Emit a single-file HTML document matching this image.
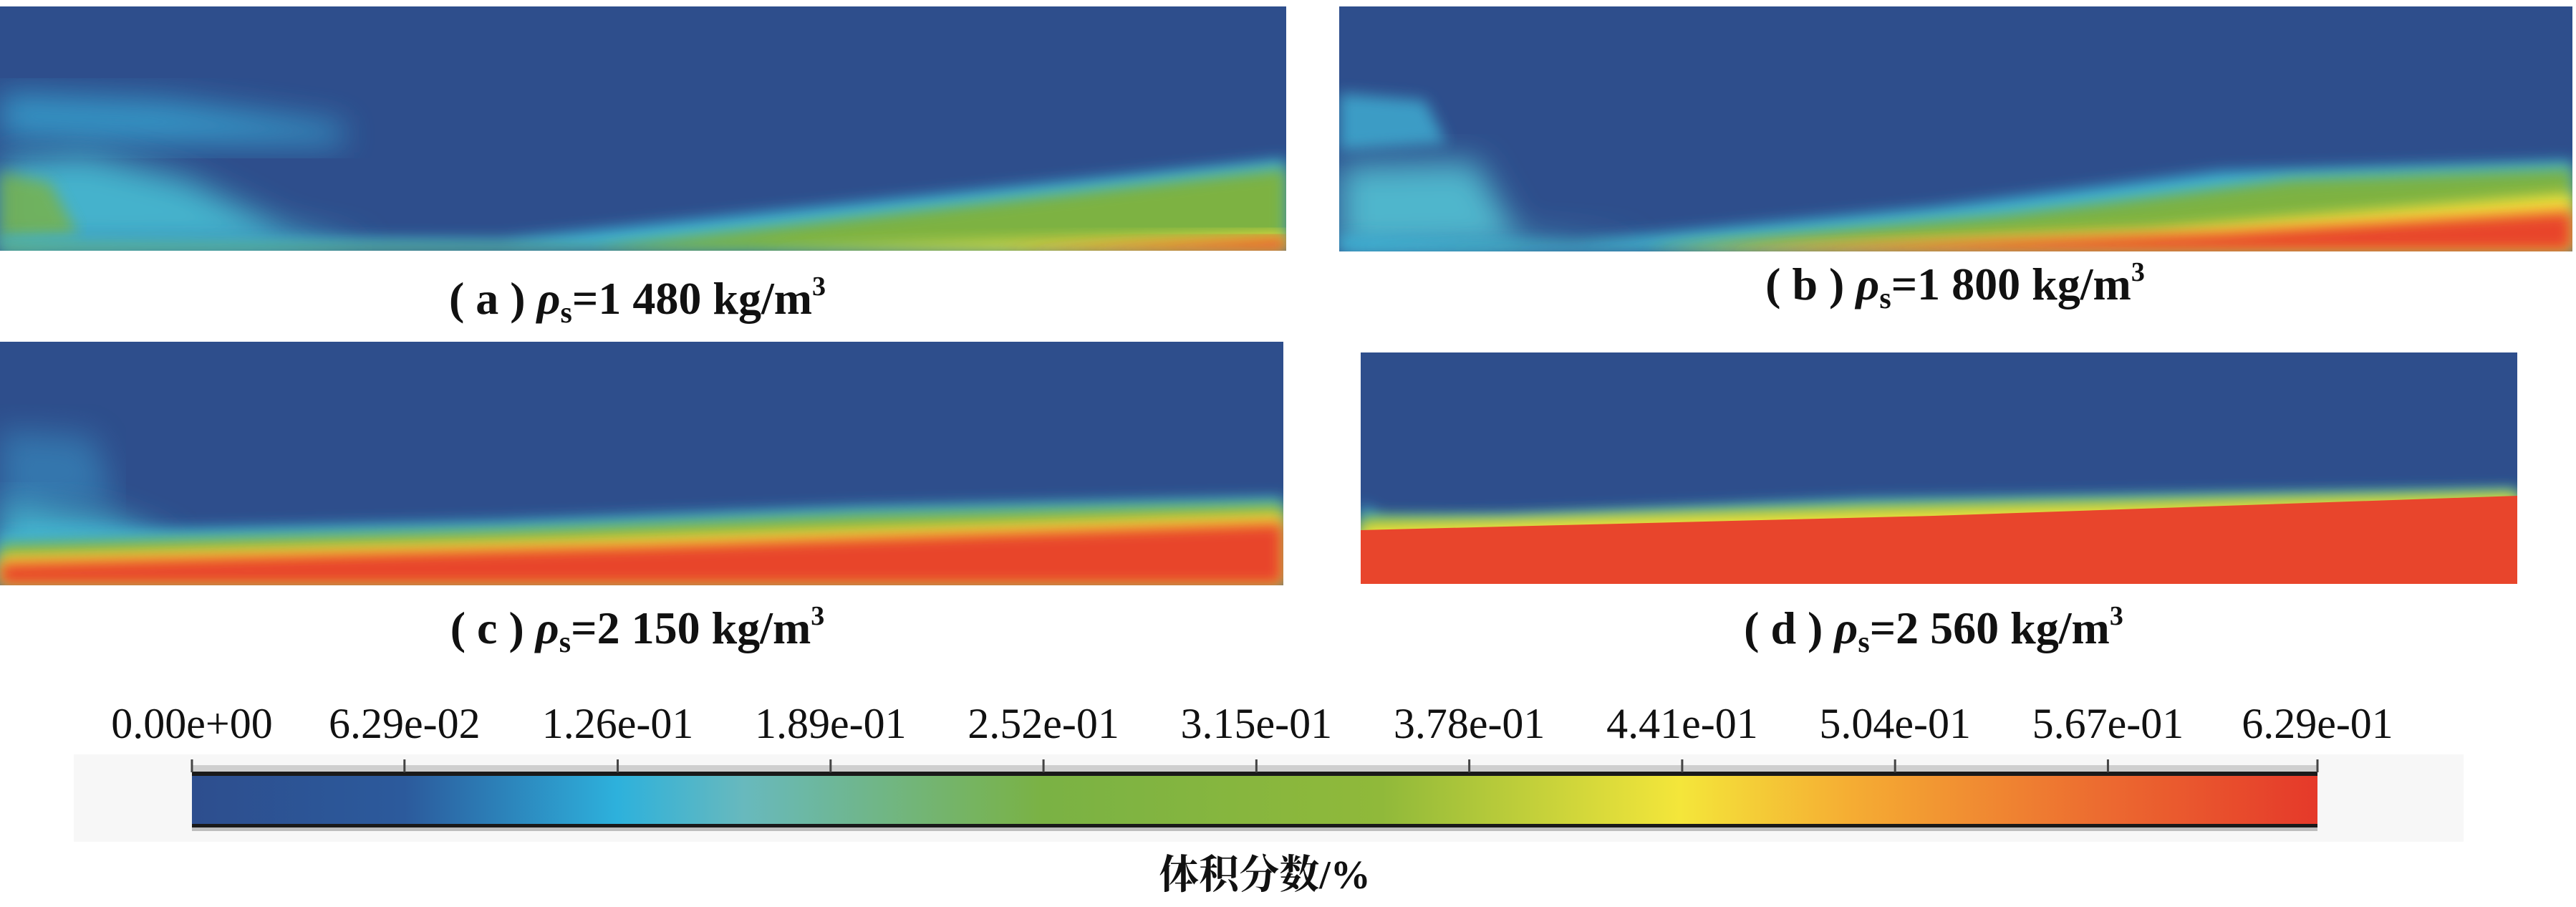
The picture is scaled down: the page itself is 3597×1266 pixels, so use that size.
<!DOCTYPE html>
<html><head><meta charset="utf-8"><style>
html,body{margin:0;padding:0;background:#fff;}
svg{display:block;}
.cap{font-family:"Liberation Serif",serif;font-weight:bold;font-size:64px;fill:#111;}
.tick{font-family:"Liberation Serif",serif;font-size:60px;fill:#111;}
.ttl{font-family:"Liberation Serif","Noto Serif CJK SC","Noto Sans CJK SC",serif;font-weight:bold;font-size:56px;fill:#111;}
</style></head><body>
<svg id="fig" width="3597" height="1266" viewBox="0 0 3597 1266" xmlns="http://www.w3.org/2000/svg">
<defs>
<filter id="b1" x="-10%" y="-30%" width="120%" height="160%"><feGaussianBlur stdDeviation="10"/></filter>
<filter id="b2" x="-10%" y="-30%" width="120%" height="160%"><feGaussianBlur stdDeviation="22"/></filter>
<clipPath id="ca"><rect x="0" y="9" width="1796" height="341"/></clipPath>
<clipPath id="cb"><rect x="1870" y="9" width="1722" height="342"/></clipPath>
<clipPath id="cc"><rect x="0" y="477" width="1792" height="340"/></clipPath>
<clipPath id="cd"><rect x="1900" y="492" width="1615" height="323"/></clipPath>
<linearGradient id="cbar" x1="0" x2="1" y1="0" y2="0">
<stop offset="0" stop-color="#2d4e8e"/><stop offset="0.1" stop-color="#2c5a9c"/>
<stop offset="0.2" stop-color="#2db1dc"/><stop offset="0.26" stop-color="#68b9bd"/>
<stop offset="0.4" stop-color="#7ab244"/><stop offset="0.56" stop-color="#90b93a"/>
<stop offset="0.7" stop-color="#f4e63a"/><stop offset="0.78" stop-color="#f5ad33"/>
<stop offset="0.9" stop-color="#ec6a30"/><stop offset="1" stop-color="#e5392a"/>
</linearGradient>
</defs>

<!-- panel a -->
<g clip-path="url(#ca)">
<rect x="0" y="9" width="1796" height="341" fill="#2e4e8c"/>
<path d="M0,130 L230,140 L480,175 L480,200 L200,200 L0,190Z" fill="#38a7d4" opacity="0.8" filter="url(#b2)"/>
<path d="M0,225 L120,215 L260,250 L400,320 L520,345 L0,350Z" fill="#45b2cc" filter="url(#b2)"/>
<path d="M0,240 L70,255 L110,330 L0,340Z" fill="#7ab244" opacity="0.8" filter="url(#b1)"/>
<path d="M0,330 L700,335 L1796,222 L1796,350 L0,350Z" fill="#3cb3d6" filter="url(#b1)"/>
<path d="M0,342 L830,345 L1796,235 L1796,350 L0,350Z" fill="#7db243" filter="url(#b1)"/>
<path d="M1050,348 L1796,325 L1796,350Z" fill="#f4e23a" filter="url(#b1)"/>
<path d="M1400,350 L1796,332 L1796,350Z" fill="#e8452c" filter="url(#b1)"/>
</g>
<text class="cap" x="890" y="438" text-anchor="middle">( a ) <tspan font-style="italic">ρ</tspan><tspan font-size="42" dy="12">s</tspan><tspan dy="-12">=1 480 kg/m</tspan><tspan font-size="38" dy="-26">3</tspan></text>

<!-- panel b -->
<g clip-path="url(#cb)">
<rect x="1870" y="9" width="1722" height="342" fill="#2e4e8c"/>
<path d="M1870,130 L1990,140 L2020,200 L1870,210Z" fill="#3fb0d4" opacity="0.8" filter="url(#b1)"/>
<path d="M1870,230 L2060,225 L2120,330 L2300,340 L1870,351Z" fill="#4fb6cc" filter="url(#b2)"/>
<path d="M1870,330 L2200,338 L2700,290 L3100,240 L3592,225 L3592,351 L1870,351Z" fill="#3cb3d6" filter="url(#b1)"/>
<path d="M1870,345 L2300,345 L2800,300 L3200,250 L3592,235 L3592,351Z" fill="#7db243" filter="url(#b1)"/>
<path d="M2300,351 L3000,320 L3592,270 L3592,351Z" fill="#f4e23a" filter="url(#b1)"/>
<path d="M2400,351 L3100,325 L3592,295 L3592,351Z" fill="#e8452c" filter="url(#b1)"/>
</g>
<text class="cap" x="2730" y="418" text-anchor="middle">( b ) <tspan font-style="italic">ρ</tspan><tspan font-size="42" dy="12">s</tspan><tspan dy="-12">=1 800 kg/m</tspan><tspan font-size="38" dy="-26">3</tspan></text>

<!-- panel c -->
<g clip-path="url(#cc)">
<rect x="0" y="477" width="1792" height="340" fill="#2e4e8c"/>
<path d="M0,600 L130,610 L160,700 L0,720Z" fill="#3a9fcf" opacity="0.5" filter="url(#b2)"/>
<path d="M0,700 L150,720 L250,760 L0,790Z" fill="#45b2cc" filter="url(#b2)"/>
<path d="M0,745 L700,728 L1200,708 L1792,695 L1792,817 L0,817Z" fill="#3cb3d6" filter="url(#b1)"/>
<path d="M0,760 L700,740 L1200,718 L1792,703 L1792,817 L0,817Z" fill="#7db243" filter="url(#b1)"/>
<path d="M0,775 L800,752 L1792,716 L1792,817 L0,817Z" fill="#f4e23a" filter="url(#b1)"/>
<path d="M0,786 L900,762 L1792,730 L1792,817 L0,817Z" fill="#e8452c" filter="url(#b1)"/>
</g>
<text class="cap" x="890" y="898" text-anchor="middle">( c ) <tspan font-style="italic">ρ</tspan><tspan font-size="42" dy="12">s</tspan><tspan dy="-12">=2 150 kg/m</tspan><tspan font-size="38" dy="-26">3</tspan></text>

<!-- panel d -->
<g clip-path="url(#cd)">
<rect x="1900" y="492" width="1615" height="323" fill="#2e4e8c"/>
<path d="M1900,705 L1930,722 L2100,720 L2600,698 L3515,684 L3515,815 L1900,815Z" fill="#3cb3d6" filter="url(#b1)"/>
<path d="M1900,722 L2100,726 L2600,706 L3515,688 L3515,815 L1900,815Z" fill="#7db243" filter="url(#b1)"/>
<path d="M1900,732 L2600,713 L3515,691 L3515,815 L1900,815Z" fill="#f4e23a" filter="url(#b1)"/>
<path d="M1900,740 L2700,720 L3515,692 L3515,815 L1900,815Z" fill="#e8452c"/>
</g>
<text class="cap" x="2700" y="898" text-anchor="middle">( d ) <tspan font-style="italic">ρ</tspan><tspan font-size="42" dy="12">s</tspan><tspan dy="-12">=2 560 kg/m</tspan><tspan font-size="38" dy="-26">3</tspan></text>

<!-- colorbar -->
<g id="colorbar">
<rect x="103" y="1053" width="3337" height="122" fill="#f7f7f7"/>
<rect x="268" y="1068" width="2968" height="10" fill="#cfcfcf"/>
<rect x="268" y="1077" width="2968" height="6" fill="#1a1a1a"/>
<rect x="268" y="1083" width="2968" height="67" fill="url(#cbar)"/>
<rect x="268" y="1150" width="2968" height="5" fill="#1a1a1a"/>
<rect x="268" y="1155" width="2968" height="5" fill="#bdbdbd"/>
<g id="ticks"></g>
</g>
<text class="ttl" x="1766" y="1240" text-anchor="middle">体积分数/%</text>
</svg>
<script>
const tickLabels = ["0.00e+00","6.29e-02","1.26e-01","1.89e-01","2.52e-01","3.15e-01","3.78e-01","4.41e-01","5.04e-01","5.67e-01","6.29e-01"];
const tickValues = [0,0.0629,0.126,0.189,0.252,0.315,0.378,0.441,0.504,0.567,0.629];
const vMin = 0, vMax = 0.629;
const x0 = 268, x1 = 3236;
function xs(v){ return x0 + (v - vMin) / (vMax - vMin) * (x1 - x0); }
const g = document.getElementById('ticks');
const NS = 'http://www.w3.org/2000/svg';
tickValues.forEach((v, i) => {
  const x = xs(v);
  const ln = document.createElementNS(NS, 'line');
  ln.setAttribute('x1', x); ln.setAttribute('x2', x);
  ln.setAttribute('y1', 1060); ln.setAttribute('y2', 1078);
  ln.setAttribute('stroke', '#444'); ln.setAttribute('stroke-width', 3);
  
  
  g.appendChild(ln);
  const t = document.createElementNS(NS, 'text');
  t.setAttribute('x', x); t.setAttribute('y', 1030);
  t.setAttribute('text-anchor', 'middle');
  t.setAttribute('class', 'tick');
  t.textContent = tickLabels[i];
  
  
  g.appendChild(t);
});
</script>
</body></html>
